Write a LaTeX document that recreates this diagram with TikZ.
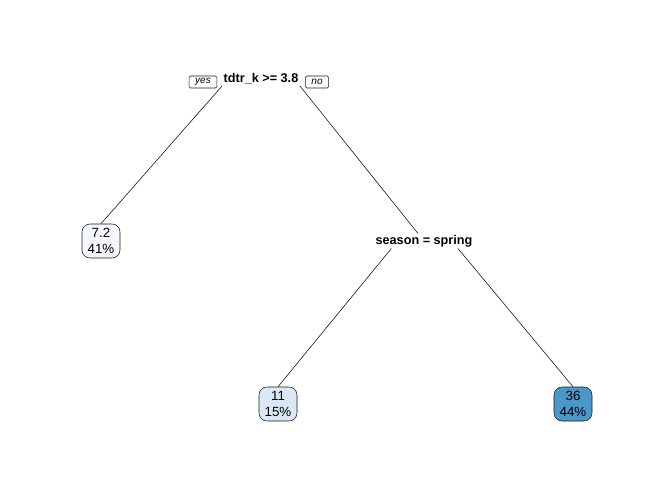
\documentclass[tikz,border=0pt]{standalone}
\usepackage{fontspec}
\setmainfont{Liberation Sans}
\usepackage{xcolor}
\usetikzlibrary{calc}
\definecolor{ink}{HTML}{1A1A1A}
\definecolor{leafa}{HTML}{F4F8FD}
\definecolor{leafb}{HTML}{DAE8F5}
\definecolor{leafc}{HTML}{4A97C9}
\tikzset{
  split/.style={font=\fontsize{9.5}{11}\selectfont\bfseries,inner sep=1pt},
  leaf/.style={draw=ink,rounded corners=6pt,align=center,font=\fontsize{10}{11.5}\selectfont,minimum width=28.5pt,minimum height=25.5pt,inner sep=1pt},
  tag/.style={draw=ink,rounded corners=1pt,font=\fontsize{7.5}{8}\selectfont\itshape,inner xsep=4.5pt,inner ysep=1.5pt,minimum height=9pt},
  branch/.style={draw=ink,line width=0.45pt}
}
\begin{document}
\begin{tikzpicture}[x=0.75pt,y=-0.75pt]
  \useasboundingbox (0,0) rectangle (672,480);
  \node[split] (root) at (261,79) {tdtr\_k >= 3.8};
  \node[tag] (yes) at (203,82) {yes};
  \node[tag] (no) at (317,82) {no};
  \node[leaf,fill=leafa] (lo) at (101,241) {7.2\\41\%};
  \node[split] (season) at (424,241) {season = spring};
  \node[leaf,fill=leafb] (mid) at (278,404) {11\\15\%};
  \node[leaf,fill=leafc] (hi) at (573,404) {36\\44\%};
  \draw[branch] (root.south west) -- (lo.north);
  \draw[branch] (root.south east) -- (season);
  \draw[branch] ([xshift=13pt]season.south west) -- (mid.north);
  \draw[branch] ([xshift=-12pt]season.south east) -- (hi.north);
\end{tikzpicture}
\end{document}
